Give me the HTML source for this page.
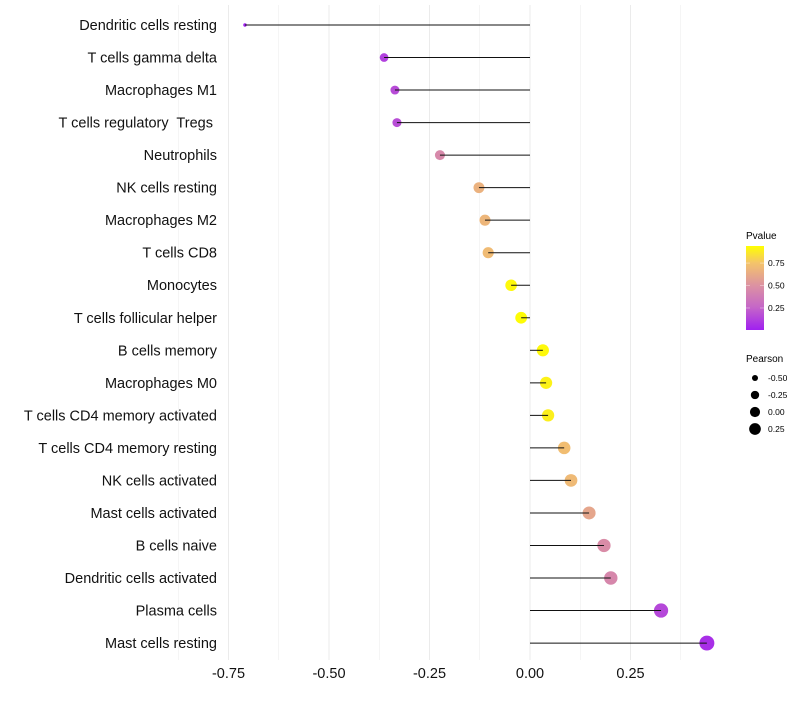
<!DOCTYPE html>
<html><head><meta charset="utf-8"><style>
body{margin:0;background:#fff;font-family:"Liberation Sans",sans-serif}
text{white-space:pre}
</style></head><body>
<svg id="c" width="800" height="700" xmlns="http://www.w3.org/2000/svg" font-family="Liberation Sans, sans-serif">
<defs><linearGradient id="pg" x1="0" y1="1" x2="0" y2="0">
<stop offset="0" stop-color="#a020f0"/><stop offset="0.27" stop-color="#c566c8"/><stop offset="0.53" stop-color="#dc92a2"/><stop offset="0.8" stop-color="#f4c46a"/><stop offset="1" stop-color="#ffff00"/></linearGradient></defs>
<g id="grid"></g><g id="marks"></g><g id="labels"></g><g id="xaxis"></g>
<g>
<text x="746" y="239" font-size="10">Pvalue</text>
<rect x="746" y="246" width="18" height="84" fill="url(#pg)"/>
<g id="cbt"></g>
</g>
<g>
<text x="746" y="362" font-size="10">Pearson</text>
<g id="szl"></g>
</g>
</svg>
<script>
const cats=["Dendritic cells resting","T cells gamma delta","Macrophages M1","T cells regulatory  Tregs ","Neutrophils","NK cells resting","Macrophages M2","T cells CD8","Monocytes","T cells follicular helper","B cells memory","Macrophages M0","T cells CD4 memory activated","T cells CD4 memory resting","NK cells activated","Mast cells activated","B cells naive","Dendritic cells activated","Plasma cells","Mast cells resting"];
const pearson=[-0.709,-0.363,-0.336,-0.331,-0.224,-0.127,-0.112,-0.104,-0.047,-0.022,0.032,0.040,0.045,0.085,0.102,0.147,0.184,0.201,0.326,0.440];
const pvals=[0.005,0.12,0.16,0.17,0.45,0.66,0.68,0.71,0.92,0.93,0.92,0.9,0.89,0.72,0.7,0.6,0.47,0.44,0.15,0.06];
const xTicks=[-0.75,-0.5,-0.25,0,0.25];
const xTickLabels=["-0.75","-0.50","-0.25","0.00","0.25"];
const cbTicks=[0.25,0.5,0.75];
const sizeLegend=[-0.5,-0.25,0,0.25];
const NS="http://www.w3.org/2000/svg";
const X=v=>530+v*402;
const Y=i=>25+i*32.53;
const R=v=>Math.sqrt(Math.max(2,3+(v+0.709)*46));
const pMin=0.005,pMax=0.94;
const CB=p=>330-(p-pMin)/(pMax-pMin)*84;
const stops=[[0,[160,32,240]],[0.27,[197,102,200]],[0.53,[220,146,162]],[0.8,[244,196,106]],[1,[255,255,0]]];
function col(p){let t=Math.min(1,Math.max(0,(p-pMin)/(pMax-pMin)));for(let k=1;k<stops.length;k++){if(t<=stops[k][0]){const a=stops[k-1],b=stops[k],f=(t-a[0])/(b[0]-a[0]);return "rgb("+a[1].map((c,j)=>Math.round(c+(b[1][j]-c)*f)).join(",")+")";}}return "rgb(255,255,0)";}
function mk(t,a,p){const e=document.createElementNS(NS,t);for(const k in a)e.setAttribute(k,a[k]);(p||document.getElementById('c')).appendChild(e);return e;}
const grid=document.getElementById('grid');
for(let v=-0.875;v<=0.376;v+=0.125){const g=mk('line',{x1:X(v),x2:X(v),y1:5,y2:660,stroke:'#ebebeb','stroke-width':Math.abs((v*4)%1)<0.01?1:0.5},grid);

}
const marks=document.getElementById('marks'),labels=document.getElementById('labels');
cats.forEach((c,i)=>{
 const pt=mk('circle',{cx:X(pearson[i]),cy:Y(i),r:R(pearson[i]),fill:col(pvals[i])},marks);
 
 
 const ln=mk('line',{x1:X(pearson[i]),x2:X(0),y1:Y(i),y2:Y(i),stroke:'#111','stroke-width':1},marks);
 
 
 const t=mk('text',{x:217,y:Y(i)+5,'text-anchor':'end','font-size':14.5,fill:'#111','xml:space':'preserve'},labels);
 t.textContent=c;
 
 
});
const xa=document.getElementById('xaxis');
xTicks.forEach((v,i)=>{const t=mk('text',{x:X(v),y:678,'text-anchor':'middle','font-size':14.5,fill:'#111'},xa);t.textContent=xTickLabels[i];

});
const cbt=document.getElementById('cbt');
cbTicks.forEach(p=>{const y=CB(p);
mk('line',{x1:746,x2:750,y1:y,y2:y,stroke:'#fff','stroke-width':0.6,opacity:0.6},cbt);
mk('line',{x1:760,x2:764,y1:y,y2:y,stroke:'#fff','stroke-width':0.6,opacity:0.6},cbt);
const t=mk('text',{x:768,y:y+3,'font-size':8.5},cbt);t.textContent=p.toFixed(2);

});
const szl=document.getElementById('szl');
sizeLegend.forEach((v,i)=>{const y=378+i*17;
const c=mk('circle',{cx:755,cy:y,r:R(v)*0.85,fill:'#000'},szl);


const t=mk('text',{x:768,y:y+3,'font-size':8.5},szl);t.textContent=v.toFixed(2);

});
</script>
</body></html>
